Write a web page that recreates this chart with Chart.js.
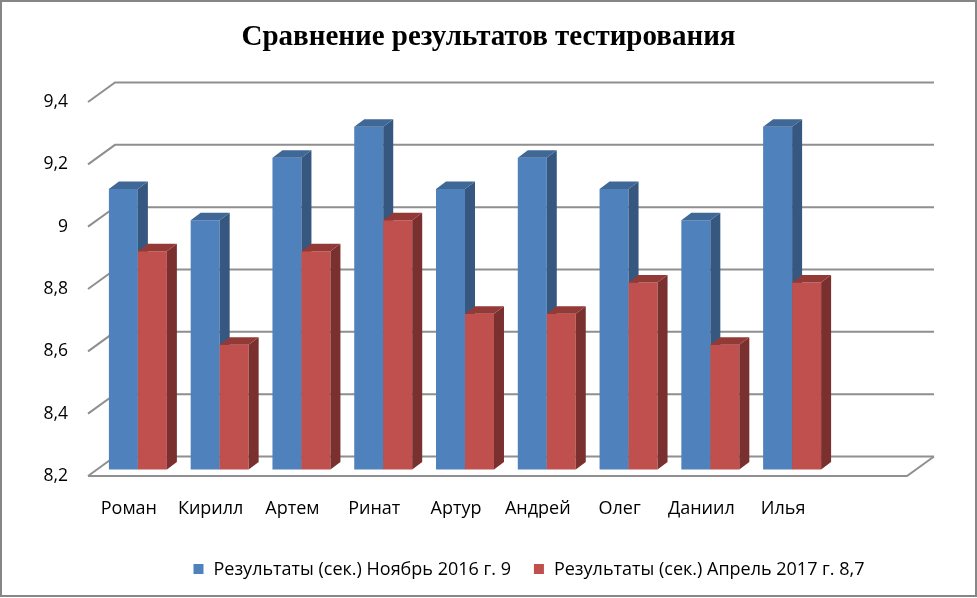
<!DOCTYPE html>
<html><head><meta charset="utf-8">
<script src="https://cdn.jsdelivr.net/npm/chart.js@4"></script>
<style>html,body{margin:0;padding:0;background:#fff}#wrap{width:977px;height:598px;position:relative}</style>
</head><body><div id="wrap"><canvas id="c" width="977" height="598"></canvas></div>
<script>
// ---- data ----
const categories = ['Роман','Кирилл','Артем','Ринат','Артур','Андрей','Олег','Даниил','Илья'];
const seriesNames = ['Результаты (сек.) Ноябрь 2016 г. 9','Результаты (сек.) Апрель 2017 г. 8,7'];
const november2016 = [9.1, 9.0, 9.2, 9.3, 9.1, 9.2, 9.1, 9.0, 9.3];
const april2017 = [8.9, 8.6, 8.9, 9.0, 8.7, 8.7, 8.8, 8.6, 8.8];
const yTicks = [8.2, 8.4, 8.6, 8.8, 9.0, 9.2, 9.4];
const titleText = 'Сравнение результатов тестирования';

// ---- styles ----
const FRONT = ['#4F81BD', '#C0504D'];
const SIDE = ['#36577F', '#7A302E'];
const TOP = ['#3F6897', '#933A37'];
const GRID = '#8F8F8F';
const WALL = {dx: 27, dy: -19.5};   // back wall offset from front plane
const BARS = {dx: 9, dy: -6.5};     // bar plane offset from front plane
const DEPTH = {dx: 10, dy: -7.5};   // bar depth
const FLOOR_EXTRA = 83;             // floor extends past last category
const LEGEND_FONT = '18px "Open Sans"';

const fmt = v => String(+(+v).toFixed(1)).replace('.', ',');

const threeD = {
  id: 'threeD',
  beforeDatasetsDraw(chart) {
    const {ctx, chartArea: a, scales: {y}} = chart;
    const right = a.right + FLOOR_EXTRA;
    ctx.save();
    ctx.strokeStyle = GRID; ctx.lineWidth = 2; ctx.lineJoin = 'miter';
    y.ticks.forEach(t => {
      const py = y.getPixelForValue(t.value);
      ctx.beginPath();
      ctx.moveTo(a.left, py);
      ctx.lineTo(a.left + WALL.dx, py + WALL.dy);
      ctx.lineTo(right + WALL.dx, py + WALL.dy);
      ctx.stroke();
    });
    const by = y.getPixelForValue(y.min);
    ctx.beginPath();
    ctx.moveTo(a.left, by); ctx.lineTo(right, by); ctx.lineTo(right + WALL.dx, by + WALL.dy);
    ctx.stroke();
    ctx.restore();

    ctx.save();
    ctx.translate(BARS.dx, BARS.dy);
    chart.data.datasets.forEach((ds, di) => {
      const meta = chart.getDatasetMeta(di);
      meta.data.forEach(el => {
        const {x, y: top, width, base} = el.getProps(['x', 'y', 'width', 'base'], true);
        const l = x - width / 2, r = x + width / 2;
        el.draw(ctx);
        ctx.fillStyle = SIDE[di];
        ctx.beginPath();
        ctx.moveTo(r, top); ctx.lineTo(r + DEPTH.dx, top + DEPTH.dy);
        ctx.lineTo(r + DEPTH.dx, base + DEPTH.dy); ctx.lineTo(r, base); ctx.closePath();
        ctx.fill();
        ctx.fillStyle = TOP[di];
        ctx.beginPath();
        ctx.moveTo(l, top); ctx.lineTo(l + DEPTH.dx, top + DEPTH.dy);
        ctx.lineTo(r + DEPTH.dx, top + DEPTH.dy); ctx.lineTo(r, top); ctx.closePath();
        ctx.fill();
      });
    });
    ctx.restore();
    return false;
  },
  afterDraw(chart) {
    const {ctx} = chart;
    ctx.save();
    // legend
    ctx.font = LEGEND_FONT;
    ctx.textBaseline = 'middle';
    const box = 10, gap = 10, itemGap = 23;
    const items = chart.data.datasets.map((ds, i) => ({text: ds.label, color: FRONT[i], w: ctx.measureText(ds.label).width}));
    const total = items.reduce((s, it) => s + box + gap + it.w, 0) + itemGap * (items.length - 1);
    const cx = 529, cy = 569;
    let x = cx - total / 2;
    items.forEach(it => {
      ctx.fillStyle = it.color;
      ctx.fillRect(x, cy - box / 2, box, box);
      ctx.fillStyle = '#000';
      ctx.fillText(it.text, x + box + gap, cy + 0.5);
      x += box + gap + it.w + itemGap;
    });
    // outer frame
    ctx.strokeStyle = '#868686'; ctx.lineWidth = 2;
    ctx.strokeRect(1, 1, chart.width - 2, chart.height - 3);
    ctx.restore();
  }
};

new Chart(document.getElementById('c'), {
  type: 'bar',
  data: {
    labels: categories,
    datasets: [
      {label: seriesNames[0], data: november2016, backgroundColor: FRONT[0], borderWidth: 0, base: yTicks[0]},
      {label: seriesNames[1], data: april2017, backgroundColor: FRONT[1], borderWidth: 0, base: yTicks[0]}
    ]
  },
  options: {
    responsive: false,
    animation: false,
    devicePixelRatio: 1,
    categoryPercentage: 0.709,
    barPercentage: 1,
    layout: {padding: 0},
    plugins: {
      legend: {display: false},
      tooltip: {enabled: false},
      title: {
        display: true, text: titleText, color: '#000',
        font: {family: '"Liberation Serif"', size: 29, weight: 'bold'},
        padding: {top: 20, bottom: 47.2}
      }
    },
    scales: {
      x: {
        grid: {display: false, drawTicks: false},
        border: {display: false},
        ticks: {color: '#000', font: {family: '"Open Sans"', size: 18}, padding: 22, maxRotation: 0, autoSkip: false},
        afterFit: s => { s.height = 122; }
      },
      y: {
        min: 8.2, max: 9.4,
        grid: {display: false, drawTicks: false},
        border: {display: false},
        afterBuildTicks: s => { s.ticks = yTicks.map(v => ({value: v})); },
        ticks: {color: '#000', font: {family: '"Open Sans"', size: 17.5}, padding: 20, callback: v => fmt(v)},
        afterFit: s => { s.width = 88; }
      },
      yR: {
        position: 'right', display: true,
        grid: {display: false, drawTicks: false},
        border: {display: false},
        ticks: {display: false},
        afterFit: s => { s.width = 153; }
      }
    }
  },
  plugins: [threeD]
});
</script></body></html>
